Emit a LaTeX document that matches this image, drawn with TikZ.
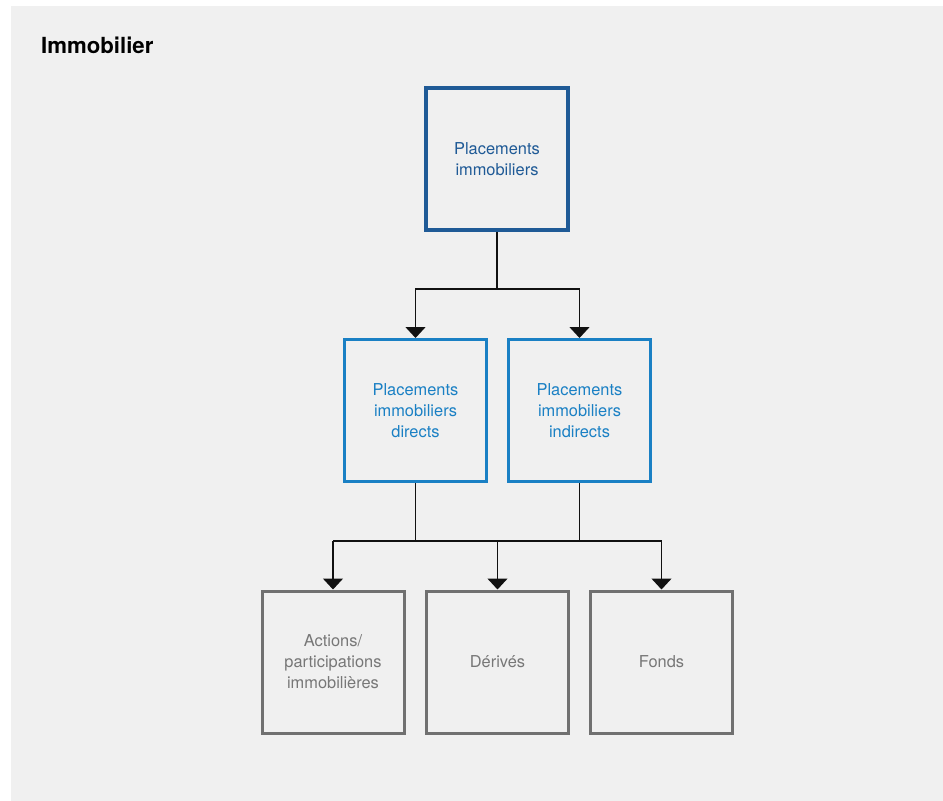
\documentclass[tikz,border=0pt]{standalone}
\usepackage{fontspec}
\setmainfont{TeX Gyre Heros}
\usetikzlibrary{arrows.meta}

\definecolor{panelgray}{HTML}{F0F0F0}
\definecolor{darkblue}{HTML}{1F5A96}
\definecolor{lightblue}{HTML}{1A80C4}
\definecolor{boxgray}{HTML}{707070}
\definecolor{textgray}{HTML}{777777}
\definecolor{linegray}{HTML}{111111}

\tikzstyle{cell} = [minimum height=142pt, minimum width=142pt, rectangle, align=center, inner sep=0pt, font=\fontsize{16.4}{21}\selectfont]
\tikzstyle{root} = [cell, style={draw=darkblue, line width=3.2pt, text=darkblue}]
\tikzstyle{branch} = [cell, style={draw=lightblue, line width=3pt, text=lightblue}]
\tikzstyle{leaf} = [cell, style={draw=boxgray, line width=3pt, text=textgray}]
\tikzstyle{fil} = [-{Triangle[width=20pt,length=11pt]}, style={draw=linegray, line width=1.4pt}]
\tikzstyle{wire} = [style={draw=linegray, line width=1.4pt}]

\begin{document}
\begin{tikzpicture}[x=1pt, y=-1pt]
\useasboundingbox (0,0) rectangle (943,801);
\fill[panelgray] (11,6) rectangle (943,801);

% Title
	\node[anchor=base west, inner sep=0pt, font=\fontsize{22.2}{26}\selectfont\bfseries] at (41,53) (title) {Immobilier};

% Top level
	\node[root] at (497,159) (place) {Placements\\immobiliers};

% Second level
	\node[branch] at (415.5,410.5) (direct) {Placements\\immobiliers\\directs};
	\node[branch] at (579.5,410.5) (indirect) {Placements\\immobiliers\\indirects};

% Third level
	\node[leaf] at (333,662) (actions) {Actions/\\participations\\immobilières};
	\node[leaf] at (497.5,662) (derives) {Dérivés};
	\node[leaf] at (661.5,662) (fonds) {Fonds};

% Links top -> second level
	\coordinate (split) at (497,289);
	\draw[wire] (place) -- (split);
	\draw[fil] (split) -| (direct);
	\draw[fil] (split) -| (indirect);

% Links second -> third level
	\coordinate (bus) at (497,541);
	\draw[wire] (direct.south) -- (direct.south |- bus);
	\draw[wire] (indirect.south) -- (indirect.south |- bus);
	\draw[wire] (actions.north |- bus) -- (fonds.north |- bus);
	\draw[fil] (actions.north |- bus) -- (actions);
	\draw[fil] (derives.north |- bus) -- (derives);
	\draw[fil] (fonds.north |- bus) -- (fonds);

\end{tikzpicture}
\end{document}
